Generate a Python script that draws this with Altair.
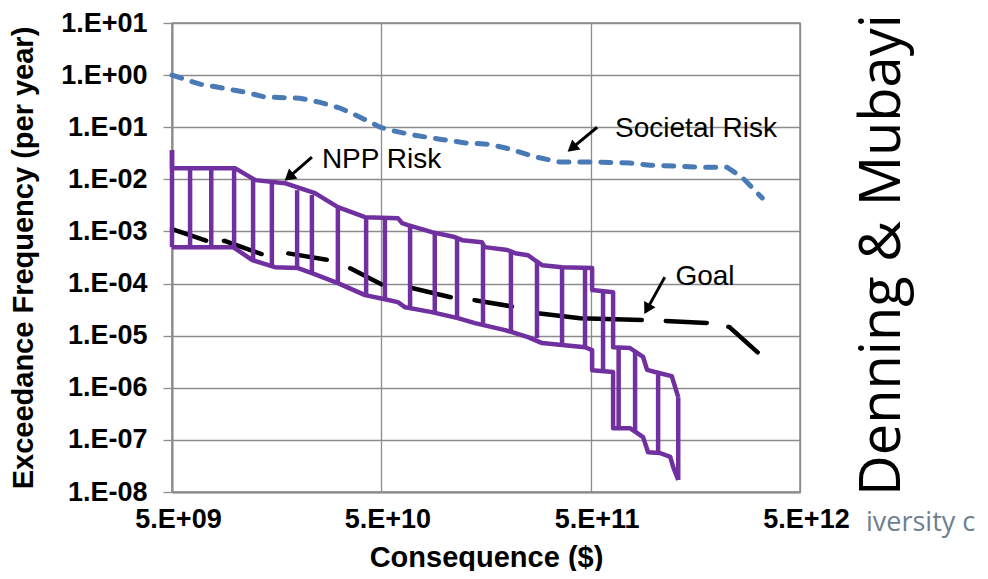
import altair as alt
import pandas as pd

# ---- tick values ----
x_ticks = [5e9, 5e10, 5e11, 5e12]
y_ticks = [1e1, 1e0, 1e-1, 1e-2, 1e-3, 1e-4, 1e-5, 1e-6, 1e-7, 1e-8]

# ---- Societal Risk (blue dashed) ----
soc_x = [5.0e9, 6.8e9, 8.2e9, 1.12e10, 1.39e10, 2.04e10, 2.55e10, 3.17e10, 3.96e10, 4.93e10,
         5.8e10, 7.2e10, 9.5e10, 1.26e11, 1.65e11, 2.06e11, 2.71e11, 3.57e11, 5.5e11, 7.7e11,
         9.6e11, 1.67e12, 2.24e12, 2.64e12, 3.3e12]
soc_y = [1.0, 0.67, 0.59, 0.47, 0.38, 0.36, 0.30, 0.233, 0.156, 0.100,
         0.084, 0.070, 0.059, 0.050, 0.047, 0.038, 0.027, 0.0214, 0.0214, 0.0205,
         0.0187, 0.0171, 0.0171, 0.0110, 0.0044]

# ---- Goal (black long dash) ----
goal_x = [5.0e9, 7.6e9, 8.9e9, 1.39e10, 1.79e10, 2.84e10, 3.54e10, 5.2e10, 7.0e10, 1.12e11,
          1.40e11, 2.22e11, 2.8e11, 4.45e11, 9.3e11, 1.9e12, 2.3e12, 3.3e12]
goal_y = [1.11e-3, 6.3e-4, 6.6e-4, 3.5e-4, 3.8e-4, 2.8e-4, 1.97e-4, 8.9e-5, 8.2e-5, 5.25e-5,
          4.8e-5, 3.5e-5, 2.7e-5, 2.17e-5, 1.99e-5, 1.74e-5, 1.46e-5, 4.0e-6]

# ---- NPP Risk band: upper bound ----
npp_up_x = [5.0e9, 5.0e9, 1.0e10, 1.25e10, 1.73e10, 2.41e10, 3.1e10, 4.18e10, 6.0e10, 6.28e10,
            6.7e10, 8.1e10, 8.7e10, 1.12e11, 1.22e11, 1.51e11, 1.56e11, 2.0e11, 2.18e11, 2.51e11,
            2.71e11, 2.93e11, 3.65e11, 5.08e11, 5.08e11, 6.4e11, 6.4e11, 7.7e11, 8.9e11, 9.3e11,
            1.07e12, 1.22e12, 1.31e12]
npp_up_y = [0.0363, 0.0164, 0.0164, 0.00966, 0.00845, 0.00543, 0.00292, 0.00188, 0.0018, 0.00144,
            0.00132, 0.00106, 9.7e-4, 7.8e-4, 6.8e-4, 6.2e-4, 5.0e-4, 4.4e-4, 3.83e-4, 3.5e-4,
            2.8e-4, 2.25e-4, 2.06e-4, 1.98e-4, 7.5e-5, 6.8e-5, 6.0e-6, 5.8e-6, 3.9e-6, 2.2e-6,
            1.9e-6, 1.67e-6, 6.6e-7]

# ---- NPP Risk band: lower bound ----
npp_lo_x = [5.0e9, 9.8e9, 1.21e10, 1.55e10, 2.0e10, 2.33e10, 3.1e10, 4.18e10, 5.2e10, 6.0e10,
            6.5e10, 8.7e10, 1.16e11, 1.40e11, 1.95e11, 2.51e11, 2.93e11, 3.65e11, 4.7e11, 5.08e11,
            5.08e11, 6.4e11, 6.4e11, 7.7e11, 8.9e11, 9.4e11, 1.07e12, 1.2e12, 1.24e12, 1.31e12]
npp_lo_y = [5.0e-4, 5.0e-4, 2.81e-4, 2.06e-4, 1.98e-4, 1.58e-4, 1.02e-4, 6.0e-5, 5.0e-5, 4.4e-5,
            3.5e-5, 2.83e-5, 2.17e-5, 1.74e-5, 1.28e-5, 9.4e-6, 7.2e-6, 6.6e-6, 6.0e-6, 5.3e-6,
            2.18e-6, 2.0e-6, 1.68e-7, 1.68e-7, 1.13e-7, 5.8e-8, 5.6e-8, 4.7e-8, 3.0e-8, 1.7e-8]

# ---- NPP Risk band: vertical hatch lines ----
hatch_x = [5.0e9, 6.1e9, 7.7e9, 9.9e9, 1.22e10, 1.50e10, 1.98e10, 2.33e10, 3.1e10, 4.23e10,
           5.2e10, 6.86e10, 9.0e10, 1.15e11, 1.53e11, 2.08e11, 2.77e11, 3.65e11, 4.7e11, 5.73e11,
           6.8e11, 8.15e11, 1.05e12, 1.31e12]
hatch_lo = [5.0e-4, 5.0e-4, 5.0e-4, 5.0e-4, 2.7e-4, 2.1e-4, 2.0e-4, 1.6e-4, 1.0e-4, 6.0e-5,
            5.0e-5, 3.4e-5, 2.7e-5, 2.2e-5, 1.7e-5, 1.2e-5, 9.0e-6, 6.6e-6, 6.0e-6, 2.1e-6,
            1.68e-7, 1.4e-7, 5.6e-8, 1.7e-8]
hatch_hi = [0.0363, 0.0164, 0.0164, 0.0164, 9.7e-3, 8.8e-3, 6.2e-3, 5.0e-3, 2.9e-3, 1.9e-3,
            1.8e-3, 1.26e-3, 9.3e-4, 7.4e-4, 5.5e-4, 4.0e-4, 2.6e-4, 2.06e-4, 1.98e-4, 7.2e-5,
            6.0e-6, 4.8e-6, 1.8e-6, 6.6e-7]

# ---- annotations ----
ann_text = ["NPP Risk", "Societal Risk", "Goal"]
ann_x = [2.6e10, 6.54e11, 1.27e12]
ann_y = [0.0234, 0.092, 1.33e-4]
arrow_x0 = [2.33e10, 5.37e11, 1.13e12]
arrow_y0 = [0.0267, 0.100, 1.33e-4]
arrow_x1 = [1.81e10, 4.07e11, 9.3e11]
arrow_y1 = [0.0110, 0.0397, 3.23e-5]
arrow_ang = [229.6, 230.4, 209.1]

FONT = "Liberation Sans"
GRID = "#8c8c8c"
PURPLE = "#7030a0"
BLUE = "#4a7ab5"
# irregular long-dash pattern of the Goal curve (dash, gap, dash, gap, ...)
GOAL_DASH = [36, 18, 40, 27, 39, 25, 35, 31, 40, 24, 38, 26, 105, 24, 41, 22, 39, 40]

xs = alt.Scale(type="log", domain=[5e9, 5e12], nice=False)
ys = alt.Scale(type="log", domain=[1e-8, 1e1], nice=False)

x_label_expr = ("'5.E+' + (round(log(datum.value/5)/LN10) < 10 ? '0' : '') + "
                "round(log(datum.value/5)/LN10)")
y_label_expr = ("'1.E' + (datum.value >= 1 ? '+' : '-') + "
                "(abs(round(log(datum.value)/LN10)) < 10 ? '0' : '') + "
                "abs(round(log(datum.value)/LN10))")

xaxis = alt.Axis(values=x_ticks, labelExpr=x_label_expr, title="Consequence ($)",
                 ticks=False, labelPadding=14, labelOffset=6, titlePadding=11,
                 labelFlush=False,
                 labelFontSize=27, labelFontWeight="bold", titleFontSize=29)
yaxis = alt.Axis(values=y_ticks, labelExpr=y_label_expr,
                 title="Exceedance Frequency (per year)", labelFlush=False,
                 tickSize=9, labelPadding=16, titlePadding=22,
                 labelFontSize=27, labelFontWeight="bold", titleFontSize=29)

X = alt.X("x:Q", scale=xs, axis=xaxis)
Y = alt.Y("y:Q", scale=ys, axis=yaxis)

df_soc = pd.DataFrame({"x": soc_x, "y": soc_y, "i": range(len(soc_x))})
df_goal = pd.DataFrame({"x": goal_x, "y": goal_y, "i": range(len(goal_x))})
df_up = pd.DataFrame({"x": npp_up_x, "y": npp_up_y, "i": range(len(npp_up_x))})
df_lo = pd.DataFrame({"x": npp_lo_x, "y": npp_lo_y, "i": range(len(npp_lo_x))})
df_hatch = pd.DataFrame({"x": hatch_x, "y": hatch_lo, "y2": hatch_hi})
df_ann = pd.DataFrame({"x": ann_x, "y": ann_y, "t": ann_text})
arrow_rows = []
for k in range(3):
    arrow_rows.append({"id": k, "i": 0, "x": arrow_x0[k], "y": arrow_y0[k]})
    arrow_rows.append({"id": k, "i": 1, "x": arrow_x1[k], "y": arrow_y1[k]})
df_arrow = pd.DataFrame(arrow_rows)
df_head = pd.DataFrame({"x": arrow_x1, "y": arrow_y1, "ang": arrow_ang})

soc = alt.Chart(df_soc).mark_line(color=BLUE, strokeWidth=5, strokeDash=[10, 11],
                                  strokeCap="round").encode(x=X, y=Y, order="i:Q")
goal = alt.Chart(df_goal).mark_line(color="black", strokeWidth=4.5, strokeDash=GOAL_DASH,
                                    strokeCap="round").encode(x=X, y=Y, order="i:Q")
up = alt.Chart(df_up).mark_line(color=PURPLE, strokeWidth=4.5,
                                strokeJoin="round").encode(x=X, y=Y, order="i:Q")
lo = alt.Chart(df_lo).mark_line(color=PURPLE, strokeWidth=4.5,
                                strokeJoin="round").encode(x=X, y=Y, order="i:Q")
hatch = alt.Chart(df_hatch).mark_rule(color=PURPLE, strokeWidth=4.5).encode(
    x=X, y=Y, y2="y2:Q")
arrows = alt.Chart(df_arrow).mark_line(color="black", strokeWidth=3).encode(
    x=X, y=Y, detail="id:N", order="i:Q")
heads = alt.Chart(df_head).mark_point(shape="triangle-up", filled=True, color="black",
                                      opacity=1, size=170).encode(
    x=X, y=Y, angle=alt.Angle("ang:Q", scale=None))
ann = alt.Chart(df_ann).mark_text(align="left", baseline="middle", font=FONT,
                                  fontSize=28, color="black").encode(x=X, y=Y, text="t:N")

side = alt.Chart(pd.DataFrame({"t": ["Denning & Mubayi"]})).mark_text(
    font="Open Sans", fontSize=56, angle=270, align="center", baseline="alphabetic",
    color="black").encode(x=alt.value(728), y=alt.value(232), text="t:N")
foot = alt.Chart(pd.DataFrame({"t": ["iversity c"]})).mark_text(
    font="Open Sans", fontSize=27, align="left", baseline="middle",
    color="#6e7f91").encode(x=alt.value(694), y=alt.value(500), text="t:N")

chart = alt.layer(soc, goal, up, lo, hatch, arrows, heads, ann, side, foot).properties(
    width=628, height=469,
    autosize=alt.AutoSizeParams(type="none"),
    padding={"left": 164, "top": 15, "right": 180, "bottom": 79},
).configure_view(stroke=GRID, strokeWidth=1.5).configure_axis(
    labelFont=FONT, titleFont=FONT, labelColor="black", titleColor="black",
    titleFontWeight="bold", gridColor=GRID, gridWidth=1.3, gridOpacity=1,
    domainColor=GRID, domainWidth=2, tickColor=GRID, tickWidth=1.3,
)

chart.save("out.html", embed_options={"renderer": "svg", "actions": False})
